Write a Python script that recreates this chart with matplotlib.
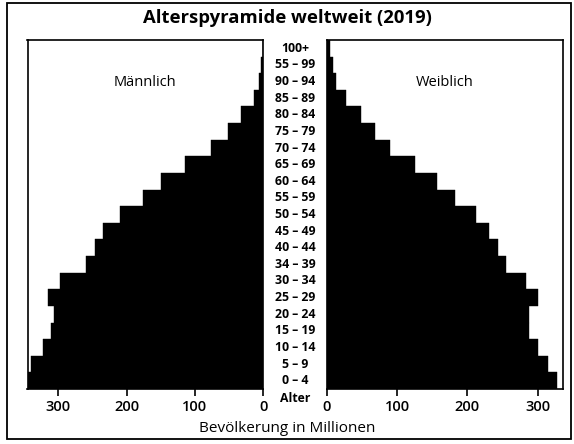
import matplotlib
matplotlib.use("Agg")
import matplotlib.pyplot as plt
from matplotlib.transforms import blended_transform_factory
from matplotlib.patches import Rectangle

plt.rcParams['font.family'] = ['Open Sans', 'DejaVu Sans']

# Age groups, bottom to top (labels as printed)
age_labels = ["0 – 4", "5 – 9", "10 – 14", "15 – 19", "20 – 24", "25 – 29",
              "30 – 34", "34 – 39", "40 – 44", "45 – 49", "50 – 54", "55 – 59",
              "60 – 64", "65 – 69", "70 – 74", "75 – 79", "80 – 84", "85 – 89",
              "90 – 94", "55 – 99", "100+"]

# Population in millions
male = [349, 340, 323, 310, 306, 315, 298, 259, 246, 235, 210, 176,
        149, 114, 76, 51, 33, 14, 6.5, 3, 1]
female = [328, 315, 300, 287, 287, 300, 284, 255, 243, 231, 213, 182,
          157, 126, 90, 69, 48.5, 28, 13, 9.5, 4]

x_ticks = [0, 100, 200, 300]

W, H = 574, 444
fig = plt.figure(figsize=(W / 100, H / 100), dpi=100)

def fig_box(x0, y0, x1, y1):
    return [x0 / W, 1 - y1 / H, (x1 - x0) / W, (y1 - y0) / H]

axL = fig.add_axes(fig_box(27.5, 40, 263.3, 389))
axR = fig.add_axes(fig_box(326.7, 40, 563, 389))

ypos = list(range(len(age_labels)))
axL.barh(ypos, male, height=1.0, color='black', edgecolor='black', linewidth=0.3)
axR.barh(ypos, female, height=1.0, color='black', edgecolor='black', linewidth=0.3)

axL.set_xlim(345, 0)
axR.set_xlim(0, 336)
for ax in (axL, axR):
    ax.set_ylim(-0.5, len(age_labels) - 0.5)
    ax.set_yticks([])
    ax.set_xticks(x_ticks)
    ax.set_xticklabels([str(t) for t in x_ticks], fontweight='semibold')
    ax.tick_params(axis='x', direction='out', length=5, width=1.2,
                   labelsize=10.5, pad=3, colors='black')
    for s in ax.spines.values():
        s.set_linewidth(1.2)
        s.set_color('black')

axL.text(0.5, 0.878, "Männlich", transform=axL.transAxes, ha='center',
         va='center', fontsize=10.5)
axR.text(0.5, 0.878, "Weiblich", transform=axR.transAxes, ha='center',
         va='center', fontsize=10.5)

# Age-group labels between the two halves
tr = blended_transform_factory(fig.transFigure, axL.transData)
xc = 295 / W
for y, lab in zip(ypos, age_labels):
    fig.text(xc, y, lab, transform=tr, ha='center', va='center',
             fontsize=8.8, fontweight='bold')
fig.text(xc, -1.05, "Alter", transform=tr, ha='center', va='center',
         fontsize=8.8, fontweight='bold')

fig.text(287 / W, 1 - 18 / H, "Alterspyramide weltweit (2019)", ha='center',
         va='center', fontsize=13.3, fontweight='bold')
fig.text(287 / W, 1 - 428 / H, "Bevölkerung in Millionen", ha='center',
         va='center', fontsize=11)

# Outer frame
fig.patches.append(Rectangle((7 / W, 1 - 439 / H), 564 / W, 436 / H,
                             transform=fig.transFigure, fill=False,
                             edgecolor='black', linewidth=1.3))

fig.savefig("out.png", dpi=100)
